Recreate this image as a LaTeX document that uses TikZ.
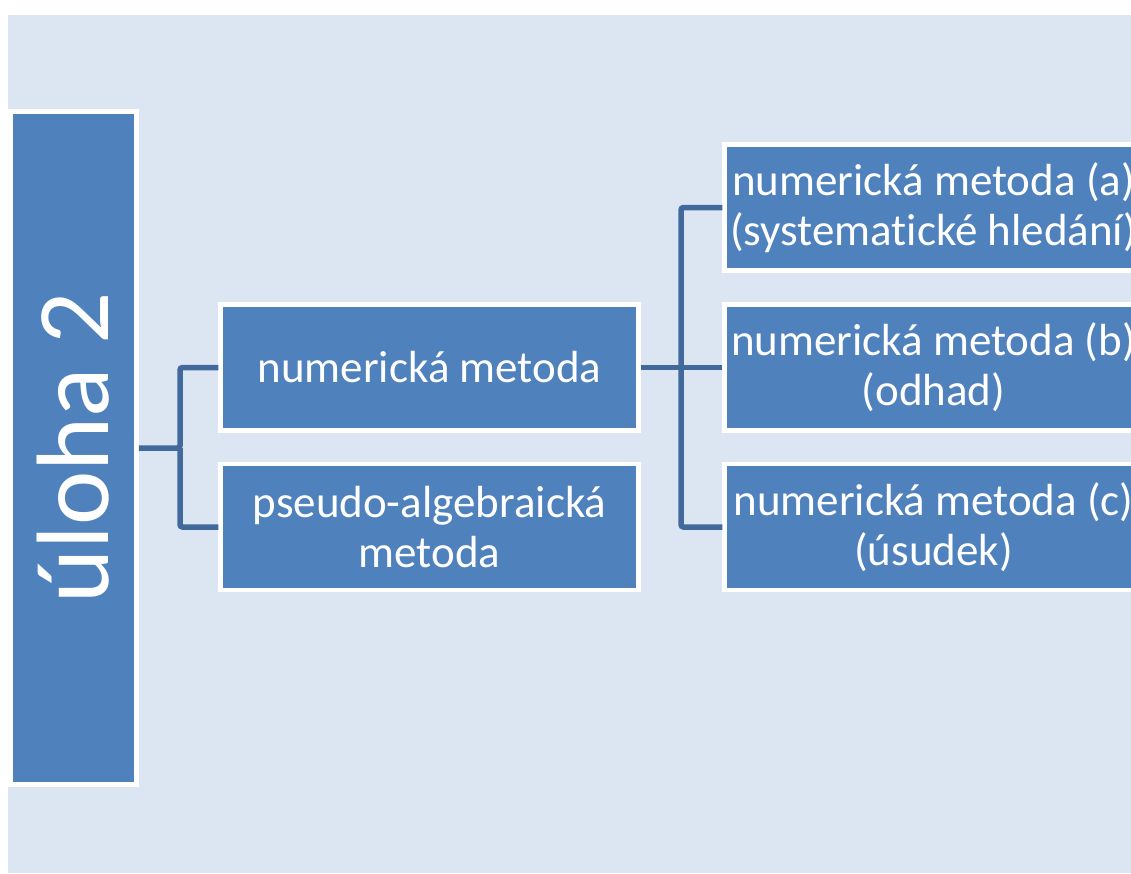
\documentclass[tikz,border=0pt]{standalone}
\usepackage{fontspec}
\setmainfont{Carlito}[Ligatures=NoCommon]
\usepackage{xcolor}
\usepackage{tikz}
\definecolor{boxblue}{HTML}{4F81BD}
\definecolor{linkblue}{HTML}{41699C}
\definecolor{paleblue}{HTML}{DCE6F2}
\begin{document}
\begin{tikzpicture}[x=1pt,y=-1pt,
  box/.style={draw=white,line width=4.5pt,fill=boxblue,text=white,align=center,
    minimum width=418pt,minimum height=126pt,inner sep=0pt,
    font=\fontsize{45}{50}\selectfont},
  link/.style={draw=linkblue,line width=5.5pt,rounded corners=2.5pt}]
\useasboundingbox (0,0) rectangle (1131,873);
\clip (0,0) rectangle (1131,873);
\fill[paleblue] (8,15) rectangle (1131,873);
% left column
\node[box,rotate=90,minimum width=673pt,minimum height=126pt,
  font=\fontsize{103}{110}\selectfont] (uloha) at (73.5,448) {úloha 2};
% middle column
\node[box] (num) at (429.5,367.5) {numerická metoda};
\node[box] (pseudo) at (429.5,527) {pseudo-algebraická\\metoda};
% right column
\node[box] (numa) at (933.5,207.5) {numerická metoda (a)\\(systematické hledání)};
\node[box] (numb) at (933.5,367.5) {numerická metoda (b)\\(odhad)};
\node[box] (numc) at (933.5,527) {numerická metoda (c)\\(úsudek)};
% links
\coordinate (j1) at (180,448);
\coordinate (j2) at (681,367.5);
\draw[link] (uloha.south) -- (j1) |- (num.west);
\draw[link] (j1) |- (pseudo.west);
\draw[link] (num.east) -- (j2) -- (numb.west);
\draw[link] (j2) |- (numa.west);
\draw[link] (j2) |- (numc.west);
\end{tikzpicture}
\end{document}
